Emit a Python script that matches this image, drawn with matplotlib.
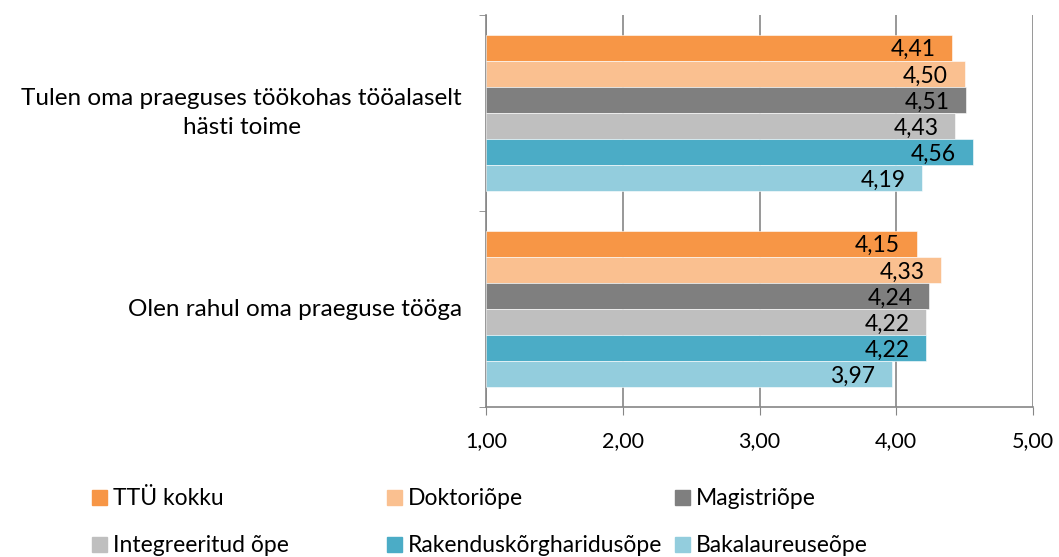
import matplotlib.pyplot as plt
from matplotlib.patches import Rectangle
import numpy as np

# data
categories = ['Tulen oma praeguses töökohas tööalaselt\nhästi toime',
              'Olen rahul oma praeguse tööga']
series = ['TTÜ kokku', 'Doktoriõpe', 'Magistriõpe',
          'Integreeritud õpe', 'Rakenduskõrgharidusõpe', 'Bakalaureuseõpe']
values = [
    [4.41, 4.15],   # TTÜ kokku
    [4.50, 4.33],   # Doktoriõpe
    [4.51, 4.24],   # Magistriõpe
    [4.43, 4.22],   # Integreeritud õpe
    [4.56, 4.22],   # Rakenduskõrgharidusõpe
    [4.19, 3.97],   # Bakalaureuseõpe
]
colors = ['#F79646', '#FAC090', '#7F7F7F', '#BFBFBF', '#4BACC6', '#93CDDD']
xticks = [1, 2, 3, 4, 5]

plt.rcParams['font.family'] = ['Lato', 'DejaVu Sans']
W, H = 1059, 557
fig = plt.figure(figsize=(W / 100, H / 100), dpi=100)
ax = fig.add_axes([486 / W, 1 - 407 / H, (1033 - 486) / W, (407 - 15) / H])

n = len(series)
bh = 0.8 / n
# category 0 on top
ycent = np.array([len(categories) - 0.5 - i for i in range(len(categories))])
for j, (name, vals) in enumerate(zip(series, values)):
    y = ycent + 0.4 - bh * (j + 0.5)
    bars = ax.barh(y, np.array(vals) - 1, left=1, height=bh, color=colors[j],
                   edgecolor='white', linewidth=0.4, zorder=3)
    for b, v in zip(bars, vals):
        ax.annotate(f'{v:.2f}'.replace('.', ','), (v, b.get_y() + bh / 2),
                    xytext=(-12, -1.5), textcoords='offset points',
                    ha='right', va='center', fontsize=16.5, color='black', zorder=4)

ax.set_xlim(1, 5)
ax.set_ylim(0, len(categories))
ax.set_xticks(xticks)
ax.set_xticklabels([f'{t:.2f}'.replace('.', ',') for t in xticks], fontsize=15.5)

# category labels, drawn as text so the two-line label can be centred
ax.set_yticks(ycent)
ax.set_yticklabels([])
for yc, lab in zip(ycent, categories):
    ax.text(-24 / 547, yc, lab, transform=ax.get_yaxis_transform(),
            ha='right', va='center', multialignment='center',
            fontsize=17.5, linespacing=1.45)
ax.set_yticks(np.arange(len(categories) + 1), minor=True)
ax.tick_params(axis='y', which='major', length=0)
ax.tick_params(axis='y', which='minor', length=5, color='#868686', direction='out')
ax.tick_params(axis='x', length=6, color='#868686', direction='out', pad=11)
ax.grid(axis='x', color='#868686', linewidth=1.2, zorder=0)
for s in ['top', 'right']:
    ax.spines[s].set_visible(False)
for s in ['left', 'bottom']:
    ax.spines[s].set_color('#868686')
    ax.spines[s].set_linewidth(1.2)

# legend, three equal columns in two rows
col_x = [92, 387, 675]
row_y = [505, 552]
for k, name in enumerate(series):
    cx = col_x[k % 3]
    cy = row_y[k // 3]
    fig.add_artist(Rectangle((cx / W, 1 - cy / H), 15 / W, 15 / H,
                             transform=fig.transFigure, color=colors[k]))
    fig.text((cx + 21) / W, 1 - cy / H, name, fontsize=16.5, va='baseline', ha='left')

fig.savefig('out.png', dpi=100)
